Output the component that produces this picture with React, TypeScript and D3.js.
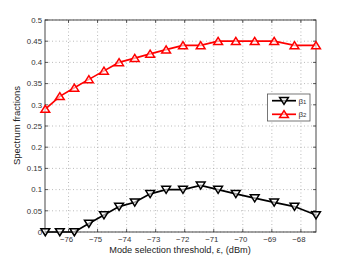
import React from 'react';
import * as d3 from 'd3';

const thresholds = [
  -76.8, -76.3, -75.8, -75.3, -74.78, -74.26, -73.72, -73.19, -72.64,
  -72.06, -71.45, -70.85, -70.24, -69.59, -68.92, -68.22, -67.48,
];
const beta1 = [0, 0, 0, 0.02, 0.04, 0.06, 0.07, 0.09, 0.1, 0.1, 0.11, 0.1, 0.09, 0.08, 0.07, 0.06, 0.04];
const beta2 = [0.29, 0.32, 0.34, 0.36, 0.38, 0.4, 0.41, 0.42, 0.43, 0.44, 0.44, 0.45, 0.45, 0.45, 0.45, 0.44, 0.44];
const xTicks = [-76, -75, -74, -73, -72, -71, -70, -69, -68];
const yTicks = [0, 0.05, 0.1, 0.15, 0.2, 0.25, 0.3, 0.35, 0.4, 0.45, 0.5];

const W = 349;
const H = 262;
const margin = { left: 45, top: 20, right: 33, bottom: 30 };
const font = '"Liberation Sans", Arial, sans-serif';

function Marker({ x, y, color, down }: { x: number; y: number; color: string; down: boolean }) {
  const s = 4.4;
  const pts = down
    ? [[x - s, y - s * 0.75], [x + s, y - s * 0.75], [x, y + s * 0.85]]
    : [[x - s, y + s * 0.75], [x + s, y + s * 0.75], [x, y - s * 0.85]];
  return (
    <polygon
      points={pts.map(p => p.join(',')).join(' ')}
      fill="rgba(255,255,255,0.6)"
      stroke={color}
      strokeWidth={1.5}
    />
  );
}

export default function App() {
  const x = d3
    .scaleLinear()
    .domain([-76.81, -67.48])
    .range([margin.left, W - margin.right]);
  const y = d3
    .scaleLinear()
    .domain([0, 0.5])
    .range([H - margin.bottom, margin.top]);

  const line = d3
    .line<number>()
    .x((_, i) => x(thresholds[i]))
    .y(d => y(d));

  const x0 = margin.left;
  const x1 = W - margin.right;
  const y0 = H - margin.bottom;
  const y1 = margin.top;

  const series = [
    { data: beta1, color: '#000', down: true },
    { data: beta2, color: '#f00', down: false },
  ];

  return (
    <svg width={W} height={H} style={{ position: 'absolute', left: 0, top: 0 }} fontFamily={font}>
      <rect x={0} y={0} width={W} height={H} fill="#fff" />
      {/* grid */}
      {xTicks.map(t => (
        <line key={'gx' + t} x1={x(t)} x2={x(t)} y1={y0} y2={y1} stroke="#aaa" strokeWidth={0.8} strokeDasharray="1,2.5" />
      ))}
      {yTicks.map(t => (
        <line key={'gy' + t} x1={x0} x2={x1} y1={y(t)} y2={y(t)} stroke="#aaa" strokeWidth={0.8} strokeDasharray="1,2.5" />
      ))}
      {/* ticks */}
      {xTicks.map(t => (
        <g key={'tx' + t}>
          <line x1={x(t)} x2={x(t)} y1={y0} y2={y0 - 3} stroke="#333" strokeWidth={0.8} />
          <line x1={x(t)} x2={x(t)} y1={y1} y2={y1 + 3} stroke="#333" strokeWidth={0.8} />
          <text x={x(t) - 2} y={y0 + 9.8} fontSize={7.8} textAnchor="middle" fill="#333">
            {'\u2212' + Math.abs(t)}
          </text>
        </g>
      ))}
      {yTicks.map(t => (
        <g key={'ty' + t}>
          <line x1={x0} x2={x0 + 3} y1={y(t)} y2={y(t)} stroke="#333" strokeWidth={0.8} />
          <line x1={x1} x2={x1 - 3} y1={y(t)} y2={y(t)} stroke="#333" strokeWidth={0.8} />
          <text x={x0 - 3} y={y(t) + 2.8} fontSize={7.8} textAnchor="end" fill="#333">
            {String(t)}
          </text>
        </g>
      ))}
      <rect x={x0} y={y1} width={x1 - x0} height={y0 - y1} fill="none" stroke="#333" strokeWidth={0.9} />
      {/* series */}
      {series.map((s, k) => (
        <g key={k}>
          <path d={line(s.data) || ''} fill="none" stroke={s.color} strokeWidth={1.7} />
          {s.data.map((v, i) => (
            <Marker key={i} x={x(thresholds[i])} y={y(v)} color={s.color} down={s.down} />
          ))}
        </g>
      ))}
      {/* legend */}
      <g>
        <rect x={267.5} y={94} width={42.5} height={27} fill="#fff" stroke="#555" strokeWidth={0.8} />
        {series.map((s, k) => {
          const ly = 100.7 + k * 13.6;
          return (
            <g key={'lg' + k}>
              <line x1={272} x2={296} y1={ly} y2={ly} stroke={s.color} strokeWidth={1.7} />
              <Marker x={284} y={ly} color={s.color} down={s.down} />
              <text x={298.5} y={ly + 3} fontSize={8} fill="#333">
                {'\u03b2'}
                <tspan fontSize={6}>{String(k + 1)}</tspan>
              </text>
            </g>
          );
        })}
      </g>
      {/* axis labels */}
      <text x={180} y={253} fontSize={9.2} textAnchor="middle" fill="#222">
        Mode selection threshold, {'\u03b5'}, (dBm)
      </text>
      <text
        transform={`translate(${19.5},${125.5}) rotate(-90)`}
        fontSize={9.5}
        textAnchor="middle"
        fill="#222"
      >
        Spectrum fractions
      </text>
    </svg>
  );
}
